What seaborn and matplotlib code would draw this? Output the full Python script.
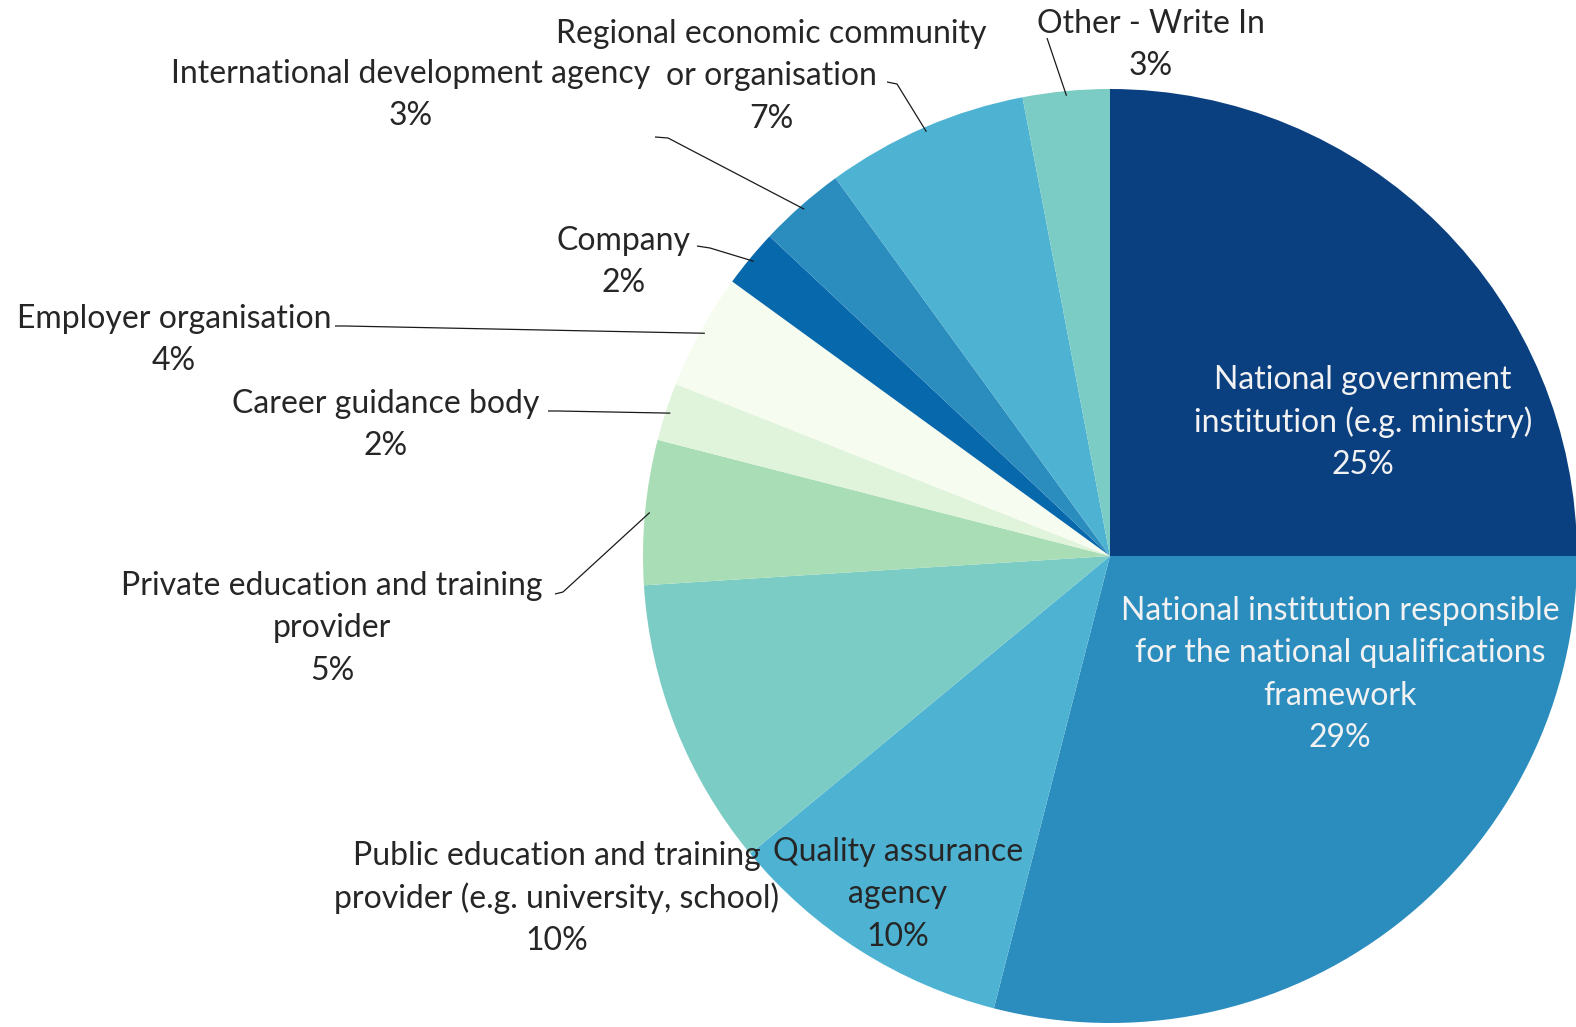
import numpy as np
import matplotlib
matplotlib.use("Agg")
import matplotlib.pyplot as plt
import seaborn as sns

# Share of responses by type of organisation (clockwise from 12 o'clock)
categories = [
    "National government\ninstitution (e.g. ministry)",
    "National institution responsible\nfor the national qualifications\nframework",
    "Quality assurance\nagency",
    "Public education and training\nprovider (e.g. university, school)",
    "Private education and training\nprovider",
    "Career guidance body",
    "Employer organisation",
    "Company",
    "International development agency",
    "Regional economic community\nor organisation",
    "Other - Write In",
]
shares = [25, 29, 10, 10, 5, 2, 4, 2, 3, 7, 3]
slice_colors = ["#0a3f80", "#2b8cbe", "#4eb3d3", "#7bccc4", "#a8ddb5",
                "#e0f3db", "#f7fcf0", "#0868ac", "#2b8cbe", "#4eb3d3", "#7bccc4"]

sns.set_theme(style="white")
plt.rcParams["font.family"] = ["Lato", "DejaVu Sans"]

W, H = 1576, 1027
fig = plt.figure(figsize=(W / 100, H / 100), dpi=100)
ax = fig.add_axes([0, 0, 1, 1])

cx, cy, R = 1110, H - 556, 467
palette = sns.color_palette(slice_colors)
wedges, _ = ax.pie(shares, colors=palette, startangle=90, counterclock=False,
                   center=(cx, cy), radius=R, wedgeprops=dict(linewidth=0))
ax.set_xlim(0, W)
ax.set_ylim(0, H)
ax.set_aspect("equal")
ax.axis("off")


def Y(y):
    return H - y


dark = "#262626"
light = "#f2f2f2"
fs = 23
step = 42.3
dy = 3  # nudge so the glyph centres sit on the anchors

# label anchor: centre x and first-line centre y (from the top), text colour
label_pos = [
    (1363, 377, light),
    (1340, 608, light),
    (898, 849, dark),
    (557, 853, dark),
    (332, 583, dark),
    (386, 401, dark),
    (174, 316, dark),
    (624, 238, dark),
    (411, 71, dark),
    (771, 31, dark),
    (1151, 21, dark),
]

# leader-line elbows near the labels (x, y from the top); None = no leader
leaders = [
    None, None, None, None,
    [(555, 594), (563, 592)],
    [(548, 411), (558, 411)],
    [(335, 326), (345, 326)],
    [(697, 246), (710, 248)],
    [(655, 137), (668, 138)],
    [(887, 82), (897, 84)],
    [(1047, 38)],
]

for cat, val, (lx, ly, col), w, ld in zip(categories, shares, label_pos, wedges, leaders):
    lines = cat.split("\n") + [f"{val}%"]
    for i, line in enumerate(lines):
        ax.text(lx, Y(ly + dy + i * step), line, ha="center", va="center",
                fontsize=fs, color=col)
    if ld is not None:
        th = np.deg2rad((w.theta1 + w.theta2) / 2)
        ex = cx + 0.99 * R * np.cos(th)
        ey = cy + 0.99 * R * np.sin(th)
        xs = [p[0] for p in ld] + [ex]
        ys = [Y(p[1]) for p in ld] + [ey]
        ax.plot(xs, ys, color="#1a1a1a", linewidth=0.9, solid_capstyle="butt")

fig.savefig("out.png", dpi=100, facecolor="white")
